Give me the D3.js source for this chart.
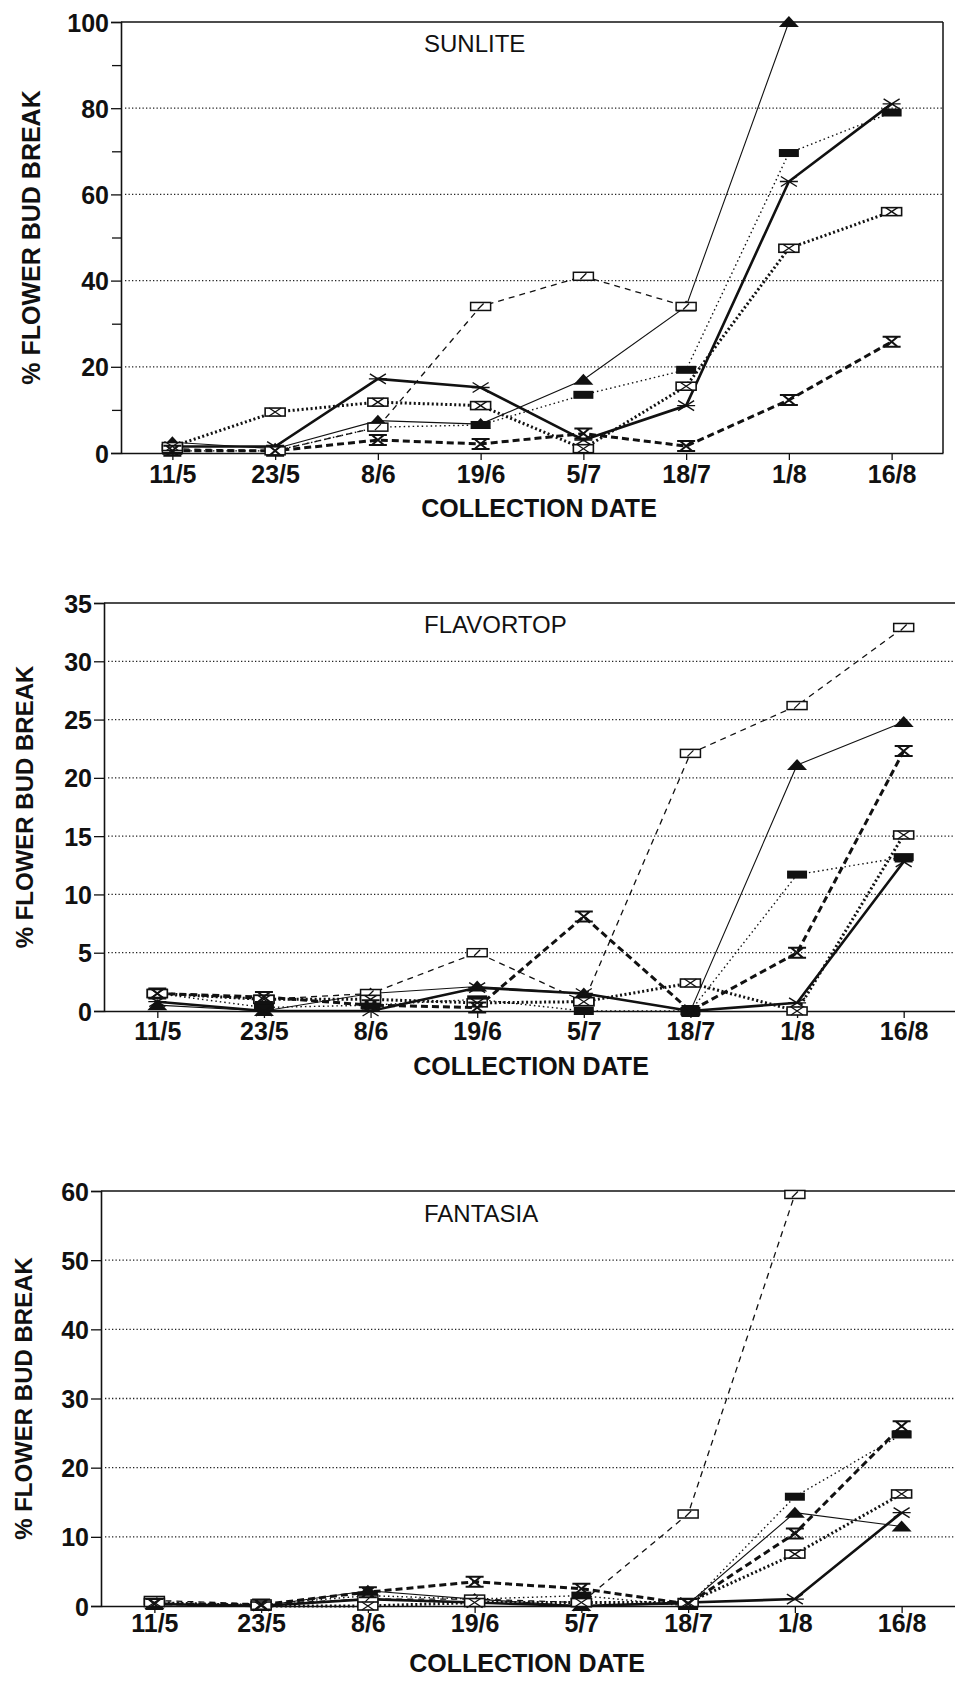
<!DOCTYPE html>
<html>
  <head>
    <meta charset="utf-8">
    <script src="https://d3js.org/d3.v7.min.js"></script>
    <style>
      body { margin: 0; background: #fff; }
      text { font-family: "Liberation Sans", Arial, sans-serif; fill: #111; }
    </style>
  </head>
  <body>
    <svg width="955" height="1693"></svg>
    <script>

      // collection dates (x categories)
      const dates = ["11/5", "23/5", "8/6", "19/6", "5/7", "18/7", "1/8", "16/8"];

      // SUNLITE  (% flower bud break)
      const sunThinSolid   = [2.5, 1, 7.5, 6.7, 17, 34, 100, null];
      const sunThinDotted  = [0.5, 0.5, 6, 6.5, 13.5, 19.3, 69.6, 79];
      const sunThickSolid  = [1.5, 1.5, 17.2, 15.2, 3, 11, 63, 81];
      const sunThinDashed  = [1, 0.5, 6, 34, 41, 34, null, null];
      const sunThickDotted = [1.5, 9.5, 11.8, 11, 1, 15.5, 47.5, 56];
      const sunThickDashed = [0.5, 0.5, 3, 2.1, 4.5, 1.6, 12.3, 25.8];
      const sunTicks = [0, 20, 40, 60, 80, 100];
      const sunMinor = [10, 30, 50, 70, 90];

      // FLAVORTOP
      const flaThinSolid   = [0.5, 0, 1.5, 2.1, 1.5, 0, 21.1, 24.8];
      const flaThinDotted  = [1.5, 0.3, 0.5, 1, 0, 0, 11.7, 13.2];
      const flaThickSolid  = [0.8, 0, 0, 2, 1.5, 0, 0.7, 12.8];
      const flaThinDashed  = [1.5, 1, 1.5, 5, 0.8, 22.1, 26.2, 32.9];
      const flaThickDotted = [1.5, 1, 1, 0.7, 0.8, 2.4, 0, 15.1];
      const flaThickDashed = [1.5, 1.2, 0.5, 0.3, 8.1, 0, 5, 22.3];
      const flaTicks = [0, 5, 10, 15, 20, 25, 30, 35];

      // FANTASIA
      const fanThinSolid   = [0.3, 0, 2.2, 1, 0, 0.3, 13.5, 11.5];
      const fanThinDotted  = [0.5, 0.2, 1.5, 1, 1.5, 0, 15.8, 24.8];
      const fanThickSolid  = [0.3, 0, 1, 0.5, 0, 0.5, 1, 13.5];
      const fanThinDashed  = [0.8, 0.3, 1, 1, 0.5, 13.3, 59.5, null];
      const fanThickDotted = [0.5, 0, 0, 0.5, 0.5, 0.5, 7.5, 16.2];
      const fanThickDashed = [0.3, 0.2, 2, 3.5, 2.5, 0.3, 10.5, 26];
      const fanTicks = [0, 10, 20, 30, 40, 50, 60];

      // line / marker styles, same order in every panel
      const styles = [
        { width: 1.1, dash: null,    marker: "triangle" },
        { width: 1.4, dash: "1.5,3", marker: "filled" },
        { width: 2.6, dash: null,    marker: "star" },
        { width: 1.3, dash: "6,5",   marker: "open" },
        { width: 3,   dash: "2,2.5", marker: "boxx" },
        { width: 3,   dash: "7,4",   marker: "hourglass" }
      ];

      const panels = [
        { title: "SUNLITE", series: [sunThinSolid, sunThinDotted, sunThickSolid, sunThinDashed, sunThickDotted, sunThickDashed],
          ticks: sunTicks, minor: sunMinor, max: 100,
          left: 121, right: 943, top: 22, bottom: 453, frameRight: true,
          titleY: 52, tickY: 483, labelY: 517, labelX: 539, yLabelX: 40, yLabelSize: 25 },
        { title: "FLAVORTOP", series: [flaThinSolid, flaThinDotted, flaThickSolid, flaThinDashed, flaThickDotted, flaThickDashed],
          ticks: flaTicks, minor: [], max: 35,
          left: 104, right: 957, top: 603, bottom: 1011, frameRight: false,
          titleY: 633, tickY: 1040, labelY: 1075, labelX: 531, yLabelX: 33, yLabelSize: 24 },
        { title: "FANTASIA", series: [fanThinSolid, fanThinDotted, fanThickSolid, fanThinDashed, fanThickDotted, fanThickDashed],
          ticks: fanTicks, minor: [], max: 60,
          left: 101, right: 955, top: 1191, bottom: 1606, frameRight: false,
          titleY: 1222, tickY: 1632, labelY: 1672, labelX: 527, yLabelX: 32, yLabelSize: 24 }
      ];

      const svg = d3.select("svg");

      function drawMarker(g, type) {
        if (type == "triangle") {
          g.append("path").attr("d", "M-10,5L0,-6L10,5Z").attr("fill", "#111");
        } else if (type == "filled") {
          g.append("rect").attr("x", -10).attr("y", -4).attr("width", 20).attr("height", 8).attr("fill", "#111");
        } else if (type == "star") {
          g.append("path").attr("d", "M-9,0H9M-8,-5L8,5M-8,5L8,-5")
            .attr("stroke", "#111").attr("stroke-width", 1.4).attr("fill", "none");
        } else if (type == "open") {
          g.append("rect").attr("x", -10).attr("y", -4).attr("width", 20).attr("height", 8)
            .attr("fill", "#fff").attr("stroke", "#111").attr("stroke-width", 1.5);
          g.append("path").attr("d", "M-3,3L3,-3").attr("stroke", "#111").attr("stroke-width", 1.2);
        } else if (type == "boxx") {
          g.append("rect").attr("x", -10).attr("y", -4).attr("width", 20).attr("height", 8)
            .attr("fill", "#fff").attr("stroke", "#111").attr("stroke-width", 1.6);
          g.append("path").attr("d", "M-6,-4L6,4M-6,4L6,-4").attr("stroke", "#111").attr("stroke-width", 1.3);
        } else if (type == "hourglass") {
          g.append("path").attr("d", "M-9,-5H9M-9,5H9M-6,-5L6,5M6,-5L-6,5")
            .attr("stroke", "#111").attr("stroke-width", 2).attr("fill", "none");
        }
      }

      panels.forEach(p => {
        const x = d3.scalePoint().domain(dates).range([p.left, p.right]).padding(0.5);
        const y = d3.scaleLinear().domain([0, p.max]).range([p.bottom, p.top]);

        // dotted grid lines
        svg.append("g").selectAll("line")
          .data(p.ticks.filter(t => t > 0 && t < p.max))
          .join("line")
          .attr("x1", p.left + 4).attr("x2", p.right)
          .attr("y1", d => y(d)).attr("y2", d => y(d))
          .attr("stroke", "#222").attr("stroke-width", 1.3)
          .attr("stroke-dasharray", "1.3,2.2");

        // frame: top line and maybe right
        svg.append("line").attr("x1", p.left).attr("x2", p.right)
          .attr("y1", p.top).attr("y2", p.top).attr("stroke", "#111").attr("stroke-width", 1.5);
        if (p.frameRight) {
          svg.append("line").attr("x1", p.right).attr("x2", p.right)
            .attr("y1", p.top).attr("y2", p.bottom).attr("stroke", "#111").attr("stroke-width", 1.5);
        }

        // y axis
        const yAxis = svg.append("g")
          .attr("transform", `translate(${p.left},0)`)
          .call(d3.axisLeft(y).tickValues(p.ticks).tickSize(10).tickPadding(2).tickFormat(d3.format("d")));
        if (p.minor.length) {
          svg.append("g")
            .attr("transform", `translate(${p.left},0)`)
            .call(d3.axisLeft(y).tickValues(p.minor).tickSize(9).tickFormat(""))
            .select(".domain").remove();
        }

        // x axis
        const xAxis = svg.append("g")
          .attr("transform", `translate(0,${p.bottom})`)
          .call(d3.axisBottom(x).tickSize(7).tickSizeOuter(0).tickPadding(10));

        svg.selectAll(".domain").attr("stroke", "#111").attr("stroke-width", 1.6);
        svg.selectAll(".tick line").attr("stroke", "#111").attr("stroke-width", 1.3);
        yAxis.selectAll("text").style("font-size", "25px").style("font-weight", "bold")
          .attr("fill", "#111").attr("dy", "0.36em");
        xAxis.selectAll("text").style("font-size", "25px").style("font-weight", "bold")
          .attr("fill", "#111").attr("y", p.tickY - p.bottom).attr("dy", 0);

        // series lines
        const line = d3.line()
          .defined(v => v != null)
          .x((v, i) => x(dates[i]))
          .y(v => y(v));

        p.series.forEach((vals, k) => {
          const st = styles[k];
          svg.append("path")
            .attr("d", line(vals))
            .attr("fill", "none")
            .attr("stroke", "#111")
            .attr("stroke-width", st.width)
            .attr("stroke-dasharray", st.dash);
        });

        // markers
        p.series.forEach((vals, k) => {
          const st = styles[k];
          vals.forEach((v, i) => {
            if (v == null) return;
            const g = svg.append("g").attr("transform", `translate(${x(dates[i])},${y(v)})`);
            drawMarker(g, st.marker);
          });
        });

        // panel title
        svg.append("text")
          .attr("x", 424)
          .attr("y", p.titleY)
          .style("font-size", "24px")
          .text(p.title);

        // axis labels
        svg.append("text")
          .attr("x", p.labelX)
          .attr("y", p.labelY)
          .attr("text-anchor", "middle")
          .style("font-size", "25px")
          .style("font-weight", "bold")
          .text("COLLECTION DATE");

        svg.append("text")
          .attr("transform", `translate(${p.yLabelX},${(p.top + p.bottom) / 2}) rotate(-90)`)
          .attr("text-anchor", "middle")
          .style("font-size", p.yLabelSize + "px")
          .style("font-weight", "bold")
          .text("% FLOWER BUD BREAK");
      });

    </script>
  </body>
</html>
